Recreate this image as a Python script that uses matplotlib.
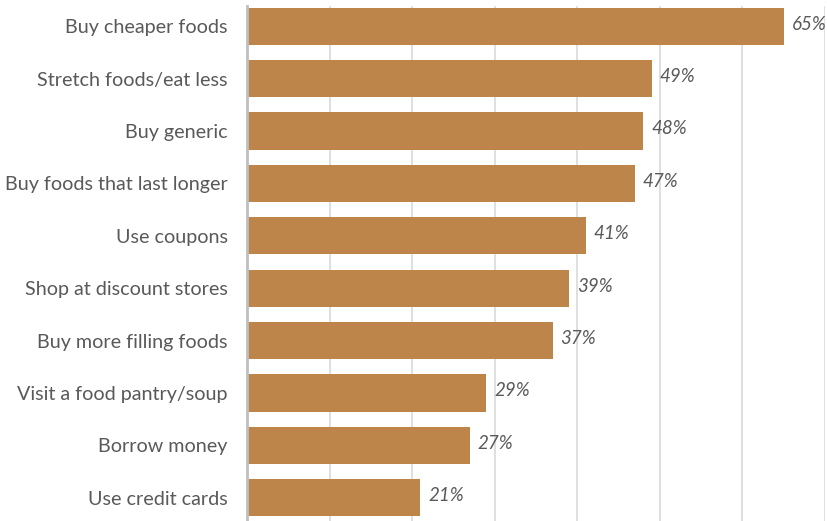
import matplotlib
matplotlib.use("Agg")
import matplotlib.pyplot as plt

labels = ["Buy cheaper foods", "Stretch foods/eat less", "Buy generic",
          "Buy foods that last longer", "Use coupons", "Shop at discount stores",
          "Buy more filling foods", "Visit a food pantry/soup", "Borrow money",
          "Use credit cards"]
values = [65, 49, 48, 47, 41, 39, 37, 29, 27, 21]

bar_color = "#BD854A"
text_color = "#595959"

plt.rcParams["font.family"] = ["Lato", "DejaVu Sans"]

fig = plt.figure(figsize=(8.27, 5.21), dpi=100)
# axes runs from y=6 px down past the bottom edge
ax = fig.add_axes([247 / 827, -3 / 521, 578 / 827, 518 / 521])

ypos = list(range(len(values)))
ax.barh(ypos, values, height=0.71, color=bar_color, zorder=3)
for y, v in zip(ypos, values):
    ax.text(v + 0.95, y - 0.04, f"{v}%", va="center", ha="left", fontsize=13.5,
            style="italic", color=text_color, zorder=4)

ax.set_xlim(0, 70)
ax.set_ylim(len(values) - 0.5, -0.385)
ax.set_xticks(range(0, 71, 10))
ax.xaxis.grid(True, color="#D9D9D9", linewidth=1.2, zorder=0)
ax.tick_params(axis="x", bottom=False, labelbottom=False)
ax.tick_params(axis="y", length=0, pad=14, labelsize=14.2, labelcolor=text_color)
ax.set_yticks(ypos)
ax.set_yticklabels(labels)
for t in ax.get_yticklabels():
    t.set_y(t.get_position()[1])
    t.set_va("center_baseline")
for s in ["top", "right", "bottom"]:
    ax.spines[s].set_visible(False)
ax.spines["left"].set_color("#BFBFBF")
ax.spines["left"].set_linewidth(2)
ax.spines["left"].set_zorder(5)

fig.savefig("out.png", dpi=100)
